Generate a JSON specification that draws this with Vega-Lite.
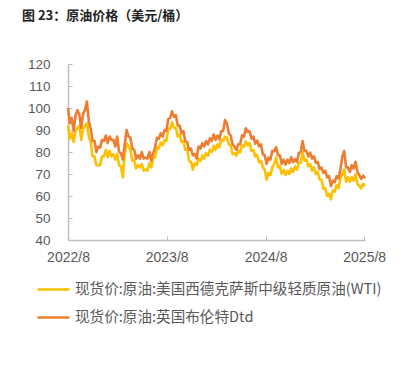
{
  "$schema": "https://vega.github.io/schema/vega-lite/v6.json",
  "width": 297,
  "height": 176,
  "autosize": {"type": "none"},
  "padding": {"left": 68, "top": 64, "right": 44, "bottom": 129},
  "background": "white",
  "title": {
    "text": "图 23：原油价格（美元/桶）",
    "anchor": "start",
    "frame": "group",
    "dx": -46,
    "offset": 34,
    "font": "Noto Sans CJK SC",
    "fontSize": 13,
    "fontWeight": "bold",
    "color": "#222222"
  },
  "data": {
    "values": [
      {"d": "2022/08/01", "wti": 92, "brent": 100},
      {"d": "2022/08/08", "wti": 86, "brent": 93},
      {"d": "2022/08/15", "wti": 88.5, "brent": 95.5},
      {"d": "2022/08/22", "wti": 84.5, "brent": 89.5},
      {"d": "2022/08/29", "wti": 89.5, "brent": 96.5},
      {"d": "2022/09/05", "wti": 91, "brent": 99},
      {"d": "2022/09/12", "wti": 92, "brent": 97},
      {"d": "2022/09/19", "wti": 85.5, "brent": 91},
      {"d": "2022/09/26", "wti": 90.5, "brent": 97.5},
      {"d": "2022/10/03", "wti": 92, "brent": 99},
      {"d": "2022/10/10", "wti": 93, "brent": 103},
      {"d": "2022/10/17", "wti": 87, "brent": 94},
      {"d": "2022/10/24", "wti": 84.5, "brent": 90.5},
      {"d": "2022/10/31", "wti": 78, "brent": 85},
      {"d": "2022/11/07", "wti": 78, "brent": 85},
      {"d": "2022/11/14", "wti": 74, "brent": 80},
      {"d": "2022/11/21", "wti": 74, "brent": 82.5},
      {"d": "2022/11/28", "wti": 74, "brent": 82},
      {"d": "2022/12/05", "wti": 78, "brent": 85.5},
      {"d": "2022/12/12", "wti": 78, "brent": 85},
      {"d": "2022/12/19", "wti": 81, "brent": 87.5},
      {"d": "2022/12/26", "wti": 77.5, "brent": 84},
      {"d": "2023/01/02", "wti": 80.5, "brent": 87},
      {"d": "2023/01/09", "wti": 78, "brent": 85.5},
      {"d": "2023/01/16", "wti": 79, "brent": 85.5},
      {"d": "2023/01/23", "wti": 76.5, "brent": 82.5},
      {"d": "2023/01/30", "wti": 79, "brent": 87},
      {"d": "2023/02/06", "wti": 74, "brent": 80},
      {"d": "2023/02/13", "wti": 73.5, "brent": 79.5},
      {"d": "2023/02/20", "wti": 68.5, "brent": 76.5},
      {"d": "2023/02/27", "wti": 79, "brent": 83.5},
      {"d": "2023/03/06", "wti": 84, "brent": 90},
      {"d": "2023/03/13", "wti": 82.5, "brent": 87},
      {"d": "2023/03/20", "wti": 81, "brent": 86.5},
      {"d": "2023/03/27", "wti": 76, "brent": 81.5},
      {"d": "2023/04/03", "wti": 76.5, "brent": 81},
      {"d": "2023/04/10", "wti": 72.5, "brent": 77},
      {"d": "2023/04/17", "wti": 74, "brent": 78.5},
      {"d": "2023/04/24", "wti": 73, "brent": 77},
      {"d": "2023/05/01", "wti": 74.5, "brent": 80},
      {"d": "2023/05/08", "wti": 71.5, "brent": 77},
      {"d": "2023/05/15", "wti": 72, "brent": 77.5},
      {"d": "2023/05/22", "wti": 71.5, "brent": 77},
      {"d": "2023/05/29", "wti": 75, "brent": 80},
      {"d": "2023/06/05", "wti": 73, "brent": 76},
      {"d": "2023/06/12", "wti": 77, "brent": 79.5},
      {"d": "2023/06/19", "wti": 77.5, "brent": 82},
      {"d": "2023/06/26", "wti": 82, "brent": 86.5},
      {"d": "2023/07/03", "wti": 81.5, "brent": 86},
      {"d": "2023/07/10", "wti": 84.3, "brent": 88.5},
      {"d": "2023/07/17", "wti": 83, "brent": 87},
      {"d": "2023/07/24", "wti": 85.5, "brent": 90},
      {"d": "2023/07/31", "wti": 85, "brent": 89.5},
      {"d": "2023/08/07", "wti": 90.5, "brent": 95},
      {"d": "2023/08/14", "wti": 90.5, "brent": 95.5},
      {"d": "2023/08/21", "wti": 93.5, "brent": 98.5},
      {"d": "2023/08/28", "wti": 91, "brent": 96},
      {"d": "2023/09/04", "wti": 91, "brent": 96.8},
      {"d": "2023/09/11", "wti": 87, "brent": 92},
      {"d": "2023/09/18", "wti": 88, "brent": 92},
      {"d": "2023/09/25", "wti": 84.5, "brent": 88.5},
      {"d": "2023/10/02", "wti": 85, "brent": 89.5},
      {"d": "2023/10/09", "wti": 81, "brent": 85},
      {"d": "2023/10/16", "wti": 81.4, "brent": 84.4},
      {"d": "2023/10/23", "wti": 76, "brent": 81},
      {"d": "2023/10/30", "wti": 75.5, "brent": 81.5},
      {"d": "2023/11/06", "wti": 72, "brent": 78.5},
      {"d": "2023/11/13", "wti": 75, "brent": 79},
      {"d": "2023/11/20", "wti": 74, "brent": 77},
      {"d": "2023/11/27", "wti": 77, "brent": 82.5},
      {"d": "2023/12/04", "wti": 76, "brent": 81.5},
      {"d": "2023/12/11", "wti": 78.5, "brent": 84},
      {"d": "2023/12/18", "wti": 77, "brent": 82.5},
      {"d": "2023/12/25", "wti": 79.5, "brent": 85},
      {"d": "2024/01/01", "wti": 78.3, "brent": 83.5},
      {"d": "2024/01/08", "wti": 81, "brent": 86.2},
      {"d": "2024/01/15", "wti": 80, "brent": 85},
      {"d": "2024/01/22", "wti": 82.8, "brent": 88},
      {"d": "2024/01/29", "wti": 81, "brent": 85.5},
      {"d": "2024/02/05", "wti": 83.5, "brent": 87.5},
      {"d": "2024/02/12", "wti": 82.2, "brent": 85.8},
      {"d": "2024/02/19", "wti": 85.5, "brent": 89.5},
      {"d": "2024/02/26", "wti": 85, "brent": 89.5},
      {"d": "2024/03/04", "wti": 87, "brent": 94.5},
      {"d": "2024/03/11", "wti": 86.5, "brent": 93},
      {"d": "2024/03/18", "wti": 83.5, "brent": 88.5},
      {"d": "2024/03/25", "wti": 83, "brent": 87.5},
      {"d": "2024/04/01", "wti": 79, "brent": 83.5},
      {"d": "2024/04/08", "wti": 79.5, "brent": 82.5},
      {"d": "2024/04/15", "wti": 78.3, "brent": 81},
      {"d": "2024/04/22", "wti": 80.6, "brent": 83.5},
      {"d": "2024/04/29", "wti": 79.8, "brent": 83.5},
      {"d": "2024/05/06", "wti": 83, "brent": 87.6},
      {"d": "2024/05/13", "wti": 82.4, "brent": 87},
      {"d": "2024/05/20", "wti": 84.8, "brent": 90.8},
      {"d": "2024/05/27", "wti": 83, "brent": 89},
      {"d": "2024/06/03", "wti": 84, "brent": 89.5},
      {"d": "2024/06/10", "wti": 80.5, "brent": 86},
      {"d": "2024/06/17", "wti": 81, "brent": 87},
      {"d": "2024/06/24", "wti": 78, "brent": 83.8},
      {"d": "2024/07/01", "wti": 78.7, "brent": 85.2},
      {"d": "2024/07/08", "wti": 75.3, "brent": 82.6},
      {"d": "2024/07/15", "wti": 76, "brent": 83.5},
      {"d": "2024/07/22", "wti": 73, "brent": 79},
      {"d": "2024/07/29", "wti": 72, "brent": 78.5},
      {"d": "2024/08/05", "wti": 67.4, "brent": 74.6},
      {"d": "2024/08/12", "wti": 70.5, "brent": 77.5},
      {"d": "2024/08/19", "wti": 69.5, "brent": 76.5},
      {"d": "2024/08/26", "wti": 73, "brent": 80.5},
      {"d": "2024/09/02", "wti": 74.5, "brent": 80.3},
      {"d": "2024/09/09", "wti": 77.5, "brent": 82.2},
      {"d": "2024/09/16", "wti": 73, "brent": 78.5},
      {"d": "2024/09/23", "wti": 73.5, "brent": 78.5},
      {"d": "2024/09/30", "wti": 70, "brent": 74.6},
      {"d": "2024/10/07", "wti": 71.8, "brent": 76.5},
      {"d": "2024/10/14", "wti": 69.6, "brent": 74.3},
      {"d": "2024/10/21", "wti": 71.5, "brent": 76.5},
      {"d": "2024/10/28", "wti": 70, "brent": 75},
      {"d": "2024/11/04", "wti": 72.5, "brent": 77.6},
      {"d": "2024/11/11", "wti": 71, "brent": 75.3},
      {"d": "2024/11/18", "wti": 73.5, "brent": 76.8},
      {"d": "2024/11/25", "wti": 72, "brent": 75.5},
      {"d": "2024/12/02", "wti": 75, "brent": 79.5},
      {"d": "2024/12/09", "wti": 75, "brent": 80},
      {"d": "2024/12/16", "wti": 80, "brent": 85},
      {"d": "2024/12/23", "wti": 76, "brent": 80.5},
      {"d": "2024/12/30", "wti": 76.5, "brent": 80.5},
      {"d": "2025/01/06", "wti": 73.5, "brent": 78},
      {"d": "2025/01/13", "wti": 74.5, "brent": 79.7},
      {"d": "2025/01/20", "wti": 71.5, "brent": 77},
      {"d": "2025/01/27", "wti": 73, "brent": 78},
      {"d": "2025/02/03", "wti": 70, "brent": 75},
      {"d": "2025/02/10", "wti": 71, "brent": 75.5},
      {"d": "2025/02/17", "wti": 67.5, "brent": 72.2},
      {"d": "2025/02/24", "wti": 67.5, "brent": 73},
      {"d": "2025/03/03", "wti": 63.3, "brent": 70.5},
      {"d": "2025/03/10", "wti": 63.5, "brent": 71.5},
      {"d": "2025/03/17", "wti": 60, "brent": 68.5},
      {"d": "2025/03/24", "wti": 61, "brent": 69},
      {"d": "2025/03/31", "wti": 58.5, "brent": 64.5},
      {"d": "2025/04/07", "wti": 62.5, "brent": 67},
      {"d": "2025/04/14", "wti": 62, "brent": 66.3},
      {"d": "2025/04/21", "wti": 65, "brent": 69},
      {"d": "2025/04/28", "wti": 63.5, "brent": 68},
      {"d": "2025/05/05", "wti": 68, "brent": 72},
      {"d": "2025/05/12", "wti": 70, "brent": 78},
      {"d": "2025/05/19", "wti": 72, "brent": 80.5},
      {"d": "2025/05/26", "wti": 66.5, "brent": 73},
      {"d": "2025/06/02", "wti": 68.5, "brent": 73},
      {"d": "2025/06/09", "wti": 66.5, "brent": 71},
      {"d": "2025/06/16", "wti": 68.5, "brent": 74},
      {"d": "2025/06/23", "wti": 67, "brent": 72.5},
      {"d": "2025/06/30", "wti": 70, "brent": 75.5},
      {"d": "2025/07/07", "wti": 65.5, "brent": 71},
      {"d": "2025/07/14", "wti": 64.5, "brent": 69.5},
      {"d": "2025/07/21", "wti": 63.5, "brent": 67.8},
      {"d": "2025/07/28", "wti": 65.5, "brent": 69.3},
      {"d": "2025/08/04", "wti": 64.5, "brent": 68}
    ]
  },
  "transform": [
    {"fold": ["wti", "brent"], "as": ["series", "price"]}
  ],
  "mark": {"type": "line", "strokeWidth": 2.6, "strokeJoin": "round"},
  "encoding": {
    "x": {
      "field": "d",
      "type": "temporal",
      "title": null,
      "scale": {
        "domain": [
          {"year": 2022, "month": 8, "date": 1},
          {"year": 2025, "month": 8, "date": 4}
        ],
        "nice": false
      },
      "axis": {
        "values": [
          {"year": 2022, "month": 8, "date": 1},
          {"year": 2023, "month": 8, "date": 1},
          {"year": 2024, "month": 8, "date": 1},
          {"year": 2025, "month": 8, "date": 1}
        ],
        "format": "%Y/%-m",
        "grid": false,
        "domainColor": "#BFBFBF",
        "domainWidth": 1.5,
        "tickColor": "#BFBFBF",
        "tickSize": -4,
        "labelPadding": 14,
        "labelFont": "Liberation Sans",
        "labelFontSize": 14,
        "labelColor": "#595959",
        "labelFlush": false,
        "labelOverlap": false
      }
    },
    "y": {
      "field": "price",
      "type": "quantitative",
      "title": null,
      "scale": {"domain": [40, 120], "nice": false, "zero": false},
      "axis": {
        "values": [40, 50, 60, 70, 80, 90, 100, 110, 120],
        "grid": false,
        "domainColor": "#BFBFBF",
        "domainWidth": 1.5,
        "tickColor": "#BFBFBF",
        "tickSize": -4,
        "labelPadding": 22,
        "labelFont": "Liberation Sans",
        "labelFontSize": 13.5,
        "labelColor": "#595959"
      }
    },
    "color": {
      "field": "series",
      "type": "nominal",
      "scale": {"domain": ["wti", "brent"], "range": ["#FFC000", "#ED7D31"]},
      "legend": {
        "title": null,
        "orient": "none",
        "legendX": -32,
        "legendY": 208,
        "direction": "vertical",
        "padding": 0,
        "symbolType": "stroke",
        "symbolSize": 1024,
        "symbolStrokeWidth": 2.5,
        "labelFont": "Noto Sans CJK SC",
        "labelFontSize": 14.6,
        "labelColor": "#595959",
        "labelOffset": 4,
        "labelLimit": 400,
        "rowPadding": 3,
        "labelExpr": "datum.value == 'wti' ? '现货价:原油:美国西德克萨斯中级轻质原油(WTI)' : '现货价:原油:英国布伦特Dtd'"
      }
    }
  },
  "config": {"view": {"stroke": null}}
}
